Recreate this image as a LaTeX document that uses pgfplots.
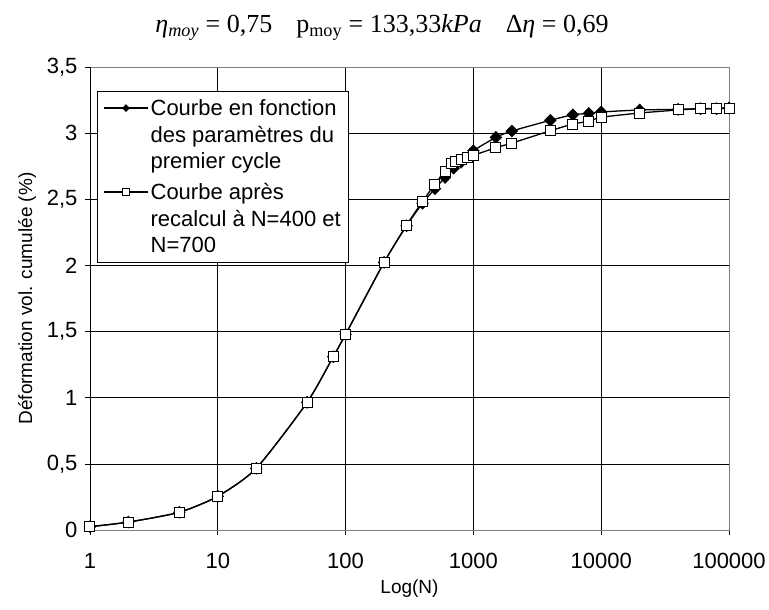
\documentclass[border=0pt]{standalone}
\usepackage{pgfplots}
\pgfplotsset{compat=1.18}
\usepackage{fontspec}
\setmainfont{Liberation Sans}
\newfontfamily\serif{Liberation Serif}
\begin{document}
\begin{tikzpicture}
\useasboundingbox (-90pt,-80pt) rectangle (679pt,530pt);
\begin{axis}[
  at={(0pt,0pt)}, anchor=south west,
  scale only axis, width=639pt, height=463pt,
  xmode=log, xmin=1, xmax=100000, ymin=0, ymax=3.5,
  xtick={1,10,100,1000,10000,100000},
  xticklabels={1,10,100,1000,10000,100000},
  xminorticks=false,
  ytick={0,0.5,1,1.5,2,2.5,3,3.5},
  yticklabels={0,{0,5},1,{1,5},2,{2,5},3,{3,5}},
  xtick pos=bottom, ytick pos=left,
  tick align=outside, major tick length=5pt,
  tick style={black, line width=0.7pt},
  grid=major, major grid style={black, line width=0.6pt},
  axis line style={draw=gray, line width=0.8pt},
  ticklabel style={font=\fontsize{22}{26}\selectfont},
  xticklabel style={yshift=-15pt},
  yticklabel style={xshift=-4pt},
  xlabel={Log(N)}, ylabel={Déformation vol. cumulée (\%)},
  label style={font=\fontsize{19}{23}\selectfont},
  xlabel style={yshift=-4pt},
  ylabel style={yshift=4pt},
  legend cell align=left,
  legend style={at={(0.011,0.948)}, anchor=north west,
    draw=black, line width=0.6pt, font=\fontsize{22}{26.7}\selectfont,
    nodes={align=left, anchor=west}, row sep=9pt, inner xsep=6pt, inner ysep=6pt},
  legend image post style={mark size=3.5pt},
  legend image code/.code={\draw[mark repeat=2,mark phase=2,#1,yshift=26.7pt]
      plot coordinates {(0pt,0pt) (22pt,0pt) (44pt,0pt)};},
]
\draw[black, line width=0.9pt] (rel axis cs:0,1) -- (rel axis cs:0,0) -- (rel axis cs:1,0);
\addplot[black, line width=1.3pt, smooth, tension=0.4, mark=diamond*, mark size=6pt,
  mark options={fill=black, line width=0.5pt, xscale=1.3}]
  coordinates {
  (1,0.025) (2,0.06) (5,0.134) (10,0.255) (20,0.466) (50,0.965) (80,1.31)
  (100,1.479) (200,2.023) (300,2.30) (400,2.47) (500,2.58) (600,2.665)
  (700,2.735) (800,2.78) (1000,2.867) (1500,2.968) (2000,3.016) (4000,3.097)
  (6000,3.139) (8000,3.149) (10000,3.16) (20000,3.175) (40000,3.18)
  (60000,3.185) (80000,3.185) (100000,3.19)};
\addlegendentry{Courbe en fonction\\des paramètres du\\premier cycle}
\addplot[black, line width=1.3pt, smooth, tension=0.4, mark=square*, mark size=5pt,
  mark options={fill=white, line width=1pt}]
  coordinates {
  (1,0.025) (2,0.06) (5,0.134) (10,0.255) (20,0.466) (50,0.965) (80,1.31)
  (100,1.479) (200,2.023) (300,2.305) (400,2.484) (500,2.615) (600,2.71)
  (680,2.77) (720,2.785) (800,2.80) (900,2.815) (1000,2.832) (1500,2.89)
  (2000,2.925) (4000,3.018) (6000,3.069) (8000,3.09) (10000,3.12)
  (20000,3.152) (40000,3.175) (60000,3.185) (80000,3.185) (100000,3.19)};
\addlegendentry{Courbe après\\recalcul à N=400 et\\N=700}
\end{axis}
\node[anchor=base] at (292pt,497pt) {\serif\fontsize{26}{30}\selectfont
  \textit{η}\textsubscript{\textit{moy}} = 0,75\hspace{24pt}p\textsubscript{moy} = 133,33\textit{kPa}\hspace{24pt}Δ\textit{η} = 0,69};
\end{tikzpicture}
\end{document}
